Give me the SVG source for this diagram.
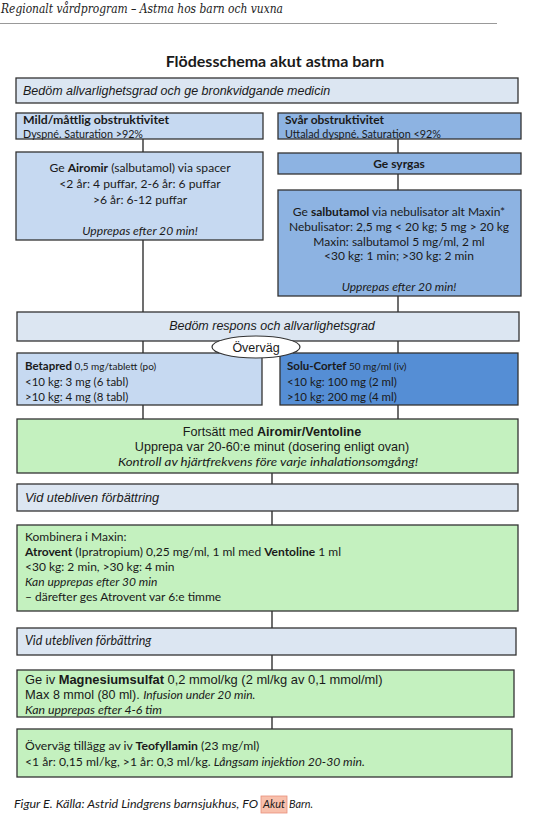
<svg xmlns="http://www.w3.org/2000/svg" width="550" height="818" viewBox="0 0 550 818">
<style>
.bx{stroke:#333;stroke-width:1.3}
.l1{fill:#dce6f2}
.l2{fill:#c6d9f1}
.m{fill:#8db3e2}
.d{fill:#558ed5}
.g{fill:#c4f1bf}
.ar{font-family:"Liberation Sans",Arial,sans-serif;fill:#1a1a1a}
.ca{font-family:Lato,"Open Sans",sans-serif;fill:#1a1a1a}
.it{font-style:italic}
.b{font-weight:bold}
.c{stroke:#222;stroke-width:1.3;fill:none}
</style>
<rect width="550" height="818" fill="#fff"/>
<g id="header">
<text x="1" y="13" font-family="'DejaVu Serif','Liberation Serif',serif" font-style="italic" font-size="12" textLength="282" lengthAdjust="spacingAndGlyphs" fill="#222">Regionalt vårdprogram – Astma hos barn och vuxna</text>
<line x1="0" y1="23.5" x2="497" y2="23.5" stroke="#999" stroke-width="1"/>
</g>
<g id="title"><text x="275" y="67" text-anchor="middle" class="ca b" font-size="16">Flödesschema akut astma barn</text></g>
<g id="connectors">
<path class="c" d="M143 139V152M143 240V312M143 341V353M143 405V419"/>
<path class="c" d="M398 139V153M398 174V190M398 296V312M398 341V353M398 405V419"/>
<path class="c" d="M272 473V484M272 511V525M272 611V628M272 655V670M272 717V729"/>
</g>
<g id="n1"><rect class="bx l1" x="16" y="78" width="502" height="25"/>
<text x="23" y="95" class="ar it" font-size="12.5">Bedöm allvarlighetsgrad och ge bronkvidgande medicin</text></g>
<g id="mild"><rect class="bx l2" x="16" y="113" width="247" height="26"/>
<text x="23" y="124" class="ca b" font-size="12" textLength="146" lengthAdjust="spacingAndGlyphs">Mild/måttlig obstruktivitet</text>
<text x="23" y="137.5" class="ca" font-size="10.5" textLength="120" lengthAdjust="spacingAndGlyphs">Dyspné. Saturation &gt;92%</text></g>
<g id="airomir"><rect class="bx l2" x="16" y="152" width="247" height="88"/>
<text class="ca" font-size="12.1" text-anchor="middle"><tspan x="140" y="172">Ge <tspan class="b">Airomir</tspan> (salbutamol) via spacer</tspan><tspan x="140" y="188">&lt;2 år: 4 puffar, 2-6 år: 6 puffar</tspan><tspan x="140" y="204">&gt;6 år: 6-12 puffar</tspan><tspan x="140" y="235" class="it">Upprepas efter 20 min!</tspan></text></g>
<g id="svar"><rect class="bx m" x="278" y="113" width="243" height="26"/>
<text x="285" y="124" class="ca b" font-size="12" textLength="99" lengthAdjust="spacingAndGlyphs">Svår obstruktivitet</text>
<text x="285" y="137.5" class="ca" font-size="10.5" textLength="156" lengthAdjust="spacingAndGlyphs">Uttalad dyspné. Saturation &lt;92%</text></g>
<g id="syrgas"><rect class="bx m" x="278" y="153" width="243" height="21"/>
<text x="399" y="168" text-anchor="middle" class="ca b" font-size="12">Ge syrgas</text></g>
<g id="salbutamol"><rect class="bx m" x="278" y="190" width="243" height="106"/>
<text class="ca" font-size="12" text-anchor="middle"><tspan x="399" y="216">Ge <tspan class="b">salbutamol</tspan> via nebulisator alt Maxin*</tspan><tspan x="399" y="231">Nebulisator: 2,5 mg &lt; 20 kg; 5 mg &gt; 20 kg</tspan><tspan x="399" y="246">Maxin:  salbutamol 5 mg/ml, 2 ml</tspan><tspan x="399" y="260">&lt;30 kg: 1 min; &gt;30 kg: 2 min</tspan><tspan x="399" y="291" class="it">Upprepas efter 20 min!</tspan></text></g>
<g id="respons"><rect class="bx l1" x="17" y="312" width="502" height="29"/>
<text x="272" y="330" text-anchor="middle" class="ar it" font-size="12.5">Bedöm respons och allvarlighetsgrad</text></g>
<g id="betapred"><rect class="bx l2" x="17" y="353" width="245" height="52"/>
<text class="ca" font-size="11.5"><tspan x="25" y="370"><tspan class="b">Betapred</tspan><tspan font-size="10"> 0,5 mg/tablett (po)</tspan></tspan><tspan x="25" y="386">&lt;10 kg: 3 mg (6 tabl)</tspan><tspan x="25" y="401">&gt;10 kg: 4 mg (8 tabl)</tspan></text></g>
<g id="solucortef"><rect class="bx d" x="280" y="353" width="238" height="52"/>
<text class="ca" font-size="11.5"><tspan x="287" y="370"><tspan class="b">Solu-Cortef</tspan><tspan font-size="10"> 50 mg/ml (iv)</tspan></tspan><tspan x="287" y="386">&lt;10 kg: 100 mg (2 ml)</tspan><tspan x="287" y="401">&gt;10 kg: 200 mg (4 ml)</tspan></text></g>
<g id="overvag"><ellipse cx="256" cy="347" rx="44" ry="11" fill="#fff" stroke="#333" stroke-width="1.2"/>
<text x="256" y="351.5" text-anchor="middle" class="ar" font-size="12.5">Överväg</text></g>
<g id="fortsatt"><rect class="bx g" x="17" y="419" width="501" height="54"/>
<text class="ar" font-size="12.6" text-anchor="middle"><tspan x="272" y="436">Fortsätt med <tspan class="b">Airomir/Ventoline</tspan></tspan><tspan x="272" y="451">Upprepa var 20-60:e minut (dosering enligt ovan)</tspan></text>
<text x="118" y="466" textLength="300" lengthAdjust="spacingAndGlyphs" class="ca it" font-size="12">Kontroll av hjärtfrekvens före varje inhalationsomgång!</text></g>
<g id="utebliven1"><rect class="bx l1" x="17" y="484" width="501" height="27"/>
<text x="25" y="502" class="ar it" font-size="12.8">Vid utebliven förbättring</text></g>
<g id="kombinera"><rect class="bx g" x="17" y="525" width="501" height="86"/>
<text class="ca" font-size="12"><tspan x="25" y="541">Kombinera i Maxin:</tspan><tspan x="25" y="556"><tspan class="b">Atrovent</tspan> (Ipratropium) 0,25 mg/ml, 1 ml med <tspan class="b">Ventoline</tspan> 1 ml</tspan><tspan x="25" y="571">&lt;30 kg: 2 min, &gt;30 kg: 4 min</tspan><tspan x="25" y="586" class="it">Kan upprepas efter 30 min</tspan><tspan x="25" y="601">– därefter ges Atrovent var 6:e timme</tspan></text></g>
<g id="utebliven2"><rect class="bx l1" x="17" y="628" width="499" height="27"/>
<text x="25" y="645" class="ca it" font-size="12.5">Vid utebliven förbättring</text></g>
<g id="magnesium"><rect class="bx g" x="17" y="670" width="497" height="47"/>
<text class="ar" font-size="12.9"><tspan x="25" y="684">Ge iv <tspan class="b">Magnesiumsulfat</tspan> 0,2 mmol/kg (2 ml/kg av 0,1 mmol/ml)</tspan><tspan x="25" y="699">Max <tspan font-size="12.5">8 mmol (80 ml). </tspan><tspan class="it" font-family="Lato,sans-serif" font-size="12">Infusion under 20 min.</tspan></tspan></text>
<text x="25" y="713.5" class="ca it" font-size="12.3">Kan upprepas  efter 4-6 tim</text></g>
<g id="teofyllamin"><rect class="bx g" x="17" y="729" width="495" height="48"/>
<text class="ca" font-size="12.2"><tspan x="25" y="750">Överväg tillägg av iv <tspan class="b">Teofyllamin</tspan> (23 mg/ml)</tspan><tspan x="25" y="766">&lt;1 år: 0,15 ml/kg, &gt;1 år: 0,3 ml/kg. <tspan class="it">Långsam injektion 20-30 min.</tspan></tspan></text></g>
<g id="caption"><rect x="261" y="796" width="26" height="17" fill="#f8c0ac" stroke="#e8907a" stroke-width="0.8"/>
<text y="808" class="ca it" font-size="12" fill="#222"><tspan x="14" textLength="244" lengthAdjust="spacingAndGlyphs">Figur E. Källa: Astrid Lindgrens barnsjukhus, FO</tspan><tspan x="263" textLength="22" lengthAdjust="spacingAndGlyphs">Akut</tspan><tspan x="289" textLength="24" lengthAdjust="spacingAndGlyphs">Barn.</tspan></text></g>
</svg>
